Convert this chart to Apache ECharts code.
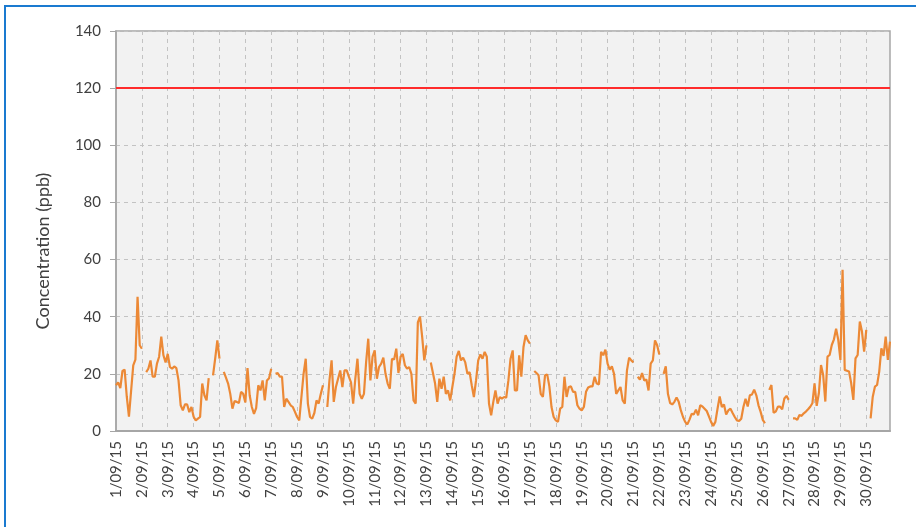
<!DOCTYPE html>
<html>
<head>
<meta charset="utf-8">
<title>Concentration (ppb)</title>
<script src="https://cdn.jsdelivr.net/npm/echarts@6/dist/echarts.min.js"></script>
<style>
    html, body {
        margin: 0;
        padding: 0;
        background: #fff;
    }
    #chart {
        width: 916px;
        height: 527px;
    }
    .frame {
        position: absolute;
        left: 4px;
        top: 5px;
        width: 912px;
        height: 530px;
        border-top: 2px solid #1a7ad0;
        border-left: 2px solid #1a7ad0;
        pointer-events: none;
    }
</style>
</head>
<body>
<div id="chart"></div>
<div class="frame"></div>
<script>
    // tick labels, one per day
    const days = ['1/09/15', '2/09/15', '3/09/15', '4/09/15', '5/09/15', '6/09/15', '7/09/15', '8/09/15',
        '9/09/15', '10/09/15', '11/09/15', '12/09/15', '13/09/15', '14/09/15', '15/09/15', '16/09/15',
        '17/09/15', '18/09/15', '19/09/15', '20/09/15', '21/09/15', '22/09/15', '23/09/15', '24/09/15',
        '25/09/15', '26/09/15', '27/09/15', '28/09/15', '29/09/15', '30/09/15']
    // readings every 2 hours (00, 02, ... 22h), null = no data
    const hours = ['00', '02', '04', '06', '08', '10', '12', '14', '16', '18', '20', '22']
    const conc = [
        16, 17, 15, 21, 21.5, 12, 5, 14, 23, 25, 47, 30,
        28.8, null, 20.6, 21.8, 24.7, 19, 19, 23.6, 26, 33, 26.5, 24,
        27, 22.4, 21.8, 22.6, 22, 17.7, 9, 7.2, 9.3, 9.3, 6.6, 8.4,
        5, 3.7, 4.3, 4.9, 16.6, 12.5, 10.7, 18.5, null, 19.5, 25.3, 31.7,
        25.3, null, 20.7, 18.7, 16.6, 13, 7.8, 10.5, 10.2, 9.8, 13.7, 13,
        10, 22, 12.5, 8.4, 6, 8, 16, 14.2, 17.7, 10.7, 17.7, 18.5,
        21.8, null, 20, 20.3, 19, 19, 8.4, 11.3, 10.2, 9, 8.4, 6.7,
        4.9, 3.7, 11.9, 20, 25.3, 9.6, 4.9, 4.3, 6.3, 10.7, 9.6, 13,
        16, null, 8.4, 17.7, 24.7, 10.2, 15.4, 18.3, 21.2, 15.4, 21.2, 21.2,
        19, 17, 9.6, 18.3, 25.3, 13, 11.3, 13, 24, 32.3, 17.7, 26,
        28.2, 18.3, 22.4, 23.6, 25.7, 20, 16.6, 14.8, 25.3, 25, 28.8, 20.3,
        26, 27, 23, 21.8, 22.4, 20, 10.7, 9.6, 38, 40, 33, 24.7,
        30, null, 24, 20.3, 16.6, 10.2, 18.3, 14.8, 19, 13, 14.2, 10.7,
        15.4, 20, 26, 28, 24.7, 25.7, 24, 20, 20.6, 16, 11.9, 17.7,
        24.7, 26.8, 25.3, 27.7, 26, 9.6, 5.5, 10.2, 14.2, 9.6, 11.9, 11.3,
        11.9, 11.7, 17.7, 25.3, 28.2, 14.2, 14.2, 26.5, 19, 29.4, 33.5, 31.7,
        30.6, null, 21, 20.3, 19.5, 13, 11.9, 19.5, 19.8, 15.6, 8.4, 4.9,
        3.7, 3.2, 7.8, 8.4, 19, 11.9, 15.4, 15.6, 13.7, 13.7, 9, 7.8,
        7.2, 8.4, 13.7, 15.2, 15.6, 15.6, 19, 16.6, 16.3, 27.7, 26.5, 28.5,
        23.6, 21.5, 22.6, 20, 13, 14.2, 15.4, 10.7, 9.6, 21.2, 25.7, 24.7,
        24, null, 19, 18, 20.3, 17.7, 18, 14.2, 23.6, 24.7, 31.7, 30,
        26.8, null, 20, 22.6, 13, 9.8, 9.3, 10.2, 11.7, 10.2, 7.2, 4.9,
        3.2, 2.3, 4, 6, 5.8, 7.5, 5.5, 9, 8.6, 7.8, 7, 5.1,
        3.2, 1.8, 3.2, 7.8, 12.1, 8.4, 9.3, 5.8, 7.2, 7.8, 6.3, 4.9,
        3.7, 3.5, 4.3, 8.4, 11.3, 8.6, 12.5, 12.8, 14.5, 12.5, 9, 6.7,
        3.9, 2.7, null, 14.4, 16.1, 6.4, 6.8, 8.5, 8.5, 7.6, 11.4, 12.3,
        10.9, null, 4.4, 4.4, 3.9, 5.6, 5.3, 6.2, 6.8, 7.6, 8.5, 9.7,
        16.7, 8.8, 13.2, 23.1, 19.6, 10.3, 26, 26.6, 30.1, 32.1, 35.8, 31.9,
        24.9, 56.4, 21.4, 21.1, 20.8, 16.7, 10.9, 25.4, 26.6, 38.3, 34.8, 27.8,
        35.4, null, 4.4, 12, 15.5, 16.1, 20.8, 28.9, 26.3, 33, 24.9, 31.3
    ]
    const limit = 120
    const yTicks = [0, 20, 40, 60, 80, 100, 120, 140]

    // one category per reading
    let times = []
    days.forEach(function (d) {
        hours.forEach(function (h) {
            times.push(d + ' ' + h + ':00')
        })
    })
    const perDay = hours.length
    const isDayStart = function (index) {
        return index % perDay === 0
    }

    let chart = echarts.init(document.getElementById('chart'))
    let option = {
        backgroundColor: '#fff',
        animation: false,
        textStyle: {
            fontFamily: 'Lato'
        },
        grid: {
            left: 116,
            right: 26,
            top: 31,
            bottom: 96,
            show: true,
            backgroundColor: '#f2f2f2',
            borderColor: '#a6a6a6',
            borderWidth: 1.5
        },
        xAxis: {
            type: 'category',
            boundaryGap: false,
            data: times,
            axisLine: {
                lineStyle: {
                    color: '#a6a6a6',
                    width: 2
                }
            },
            axisTick: {
                show: false
            },
            axisLabel: {
                interval: function (index) {
                    return isDayStart(index)
                },
                rotate: 90,
                margin: 10,
                color: '#404040',
                fontSize: 15,
                formatter: function (value) {
                    return value.split(' ')[0]
                }
            },
            splitLine: {
                show: true,
                interval: function (index) {
                    return isDayStart(index) && index > 0
                },
                lineStyle: {
                    color: '#c3c3c3',
                    type: [4, 4]
                }
            }
        },
        yAxis: {
            type: 'value',
            min: yTicks[0],
            max: yTicks[yTicks.length - 1],
            interval: yTicks[1] - yTicks[0],
            axisLine: {
                show: true,
                lineStyle: {
                    color: '#a6a6a6',
                    width: 1.5
                }
            },
            axisTick: {
                show: true,
                length: 6,
                lineStyle: {
                    color: '#a6a6a6'
                }
            },
            axisLabel: {
                margin: 15,
                color: '#404040',
                fontSize: 15
            },
            splitLine: {
                lineStyle: {
                    color: '#c3c3c3',
                    type: [4, 4]
                }
            }
        },
        graphic: [
            {
                type: 'text',
                x: 43,
                y: 251,
                rotation: Math.PI / 2,
                style: {
                    text: 'Concentration (ppb)',
                    fill: '#404040',
                    font: '18px Lato',
                    align: 'center',
                    verticalAlign: 'middle'
                }
            }
        ],
        series: [
            {
                name: 'Concentration',
                type: 'line',
                data: conc,
                showSymbol: false,
                connectNulls: false,
                lineStyle: {
                    color: '#ec8936',
                    width: 2.2
                },
                itemStyle: {
                    color: '#ec8936'
                },
                markLine: {
                    silent: true,
                    symbol: 'none',
                    label: { show: false },
                    lineStyle: {
                        color: '#ff2b2b',
                        width: 2,
                        type: 'solid'
                    },
                    data: [{ yAxis: limit }]
                }
            }
        ]
    }
    chart.setOption(option)
</script>
</body>
</html>
